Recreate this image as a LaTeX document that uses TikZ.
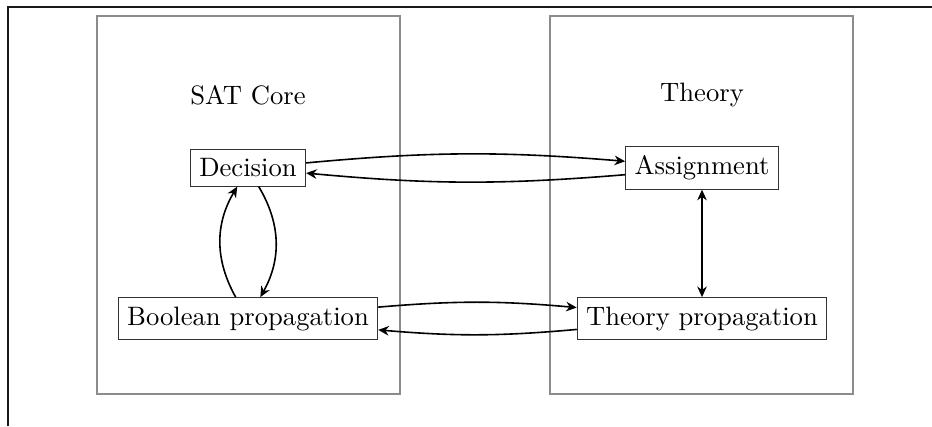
\documentclass[tikz,border=0pt]{standalone}
\usetikzlibrary{arrows.meta}
\begin{document}
\begin{tikzpicture}[x=0.013201cm, y=-0.013201cm,
  >={Stealth[length=4pt,width=3.6pt,inset=1.3pt]},
  region/.style={draw=black!45, line width=0.6pt},
  blk/.style={draw=black!80, fill=white, font=\fontsize{10}{12}\selectfont, inner sep=3.33pt},
  ttl/.style={font=\fontsize{10}{12}\selectfont},
  conn/.style={->, semithick}]
\useasboundingbox (0,0) rectangle (932,426);
\draw[black!90, line width=0.7pt] (8,426) -- (8,7) -- (932,7);
\draw[region] (97,16) rectangle (400,394);
\draw[region] (550,16) rectangle (853,394);
\node[ttl] (sat) at (248,95) {SAT Core};
\node[ttl] (thy) at (702,95) {Theory};
\node[blk] (dec) at (248,168) {Decision};
\node[blk] (asg) at (702,168) {Assignment};
\node[blk] (bool) at (248,318.5) {Boolean propagation};
\node[blk] (tprop) at (702,318.5) {Theory propagation};
\draw[conn] (dec) to[bend left=5] (asg);
\draw[conn] (asg) to[bend left=5] (dec);
\draw[conn] (bool) to[bend left=5] (tprop);
\draw[conn] (tprop) to[bend left=5] (bool);
\draw[conn] (bool) to[bend left=30] (dec);
\draw[conn] (dec) to[bend left=30] (bool);
\draw[conn, <->] (asg) -- (tprop);
\end{tikzpicture}
\end{document}
